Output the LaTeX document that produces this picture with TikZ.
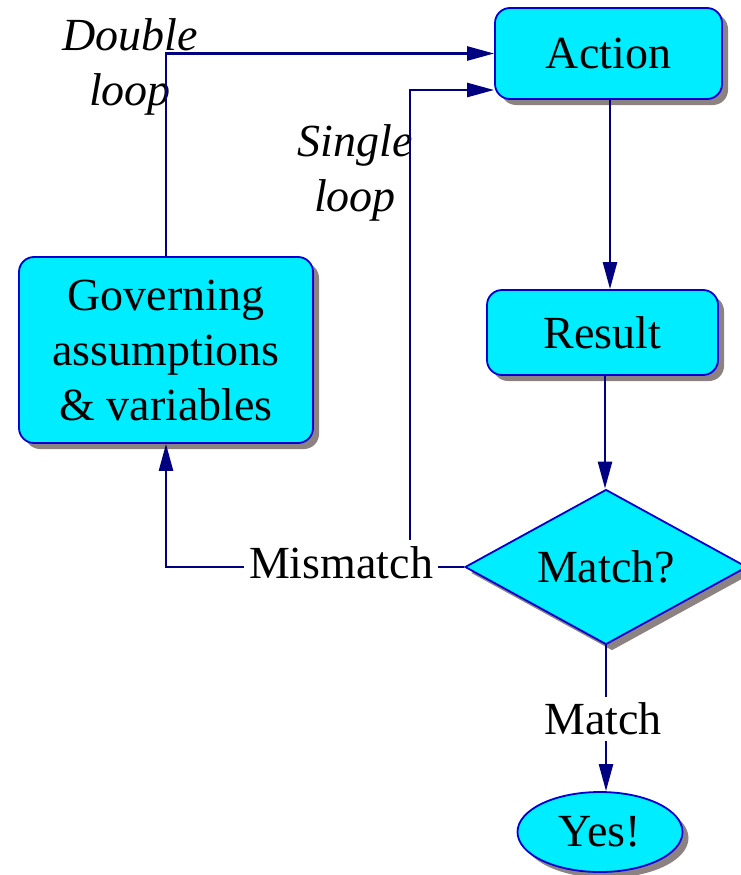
\documentclass[tikz,border=0pt]{standalone}
\usepackage{fontspec}
\setmainfont{Liberation Serif}
\usetikzlibrary{shapes.geometric,shadows,arrows.meta}
\definecolor{boxfill}{RGB}{0,236,255}
\definecolor{boxline}{RGB}{0,0,210}
\definecolor{wire}{RGB}{0,0,128}
\definecolor{shade}{RGB}{140,130,130}
\tikzset{
  big/.style={font=\fontsize{46}{55}\selectfont},
  shadowed/.style={drop shadow={shadow xshift=6pt,shadow yshift=-6pt,fill=shade,opacity=1}},
  block/.style={big,draw=boxline,line width=1.8pt,fill=boxfill,shadowed,inner sep=0pt},
  roundbox/.style={block,rectangle,rounded corners=15pt,align=center},
  decision/.style={block,diamond,shape aspect=1.82},
  terminal/.style={block,ellipse},
  wirelabel/.style={big,inner xsep=5pt,inner ysep=6pt},
  looplabel/.style={big,font=\fontsize{46}{55}\selectfont\itshape,align=center,inner sep=0pt},
  wireline/.style={draw=wire,line width=2.5pt},
  arr/.style={wireline,-{Triangle[length=27pt,width=14pt]}}
}
\begin{document}
\begin{tikzpicture}[x=1pt,y=-1pt]
\useasboundingbox (0,0) rectangle (740,875);

% process blocks
\node[roundbox,minimum width=227pt,minimum height=91pt] (action) at (608.5,53.5) {Action};
\node[roundbox,minimum width=231pt,minimum height=85pt] (result) at (602.5,332.5) {Result};
\node[roundbox,minimum width=294pt,minimum height=186pt] (gov) at (166,350)
  {Governing\\assumptions\\\& variables};
\node[decision,minimum width=282pt,minimum height=155pt] (match) at (606,567) {Match?};
\node[terminal,minimum width=165pt,minimum height=80pt] (yes) at (600,832) {Yes!};

% labels on the connectors
\node[wirelabel,anchor=base] (mism) at (341,578) {Mismatch};
\node[wirelabel] (mlabel) at (603,719) {Match};
\node[looplabel] (dbl) at (130,67) {Double\\loop};
\node[looplabel] (sgl) at (355,173) {Single\\loop};

% corner of the single loop
\coordinate (sl) at (410,90);

% main flow
\draw[arr] (action.south -| 610,0) -- (result.north -| 610,0);
\draw[arr] (result.south -| 605,0) -- (match.north -| 605,0);
\draw[wireline] (match.south) -- (mlabel.north -| match.south);
\draw[arr] (mlabel.south -| match.south) -- (match.south |- yes.north);

% mismatch branches
\draw[wireline] (match.west) -- (match.west -| mism.east);
\draw[arr] (mism.west |- match.west) -| (gov.south);
\draw[arr] (mism.north -| sl) |- (action.west |- sl);
\draw[arr] (gov.north) |- (action.west);
\end{tikzpicture}
\end{document}
